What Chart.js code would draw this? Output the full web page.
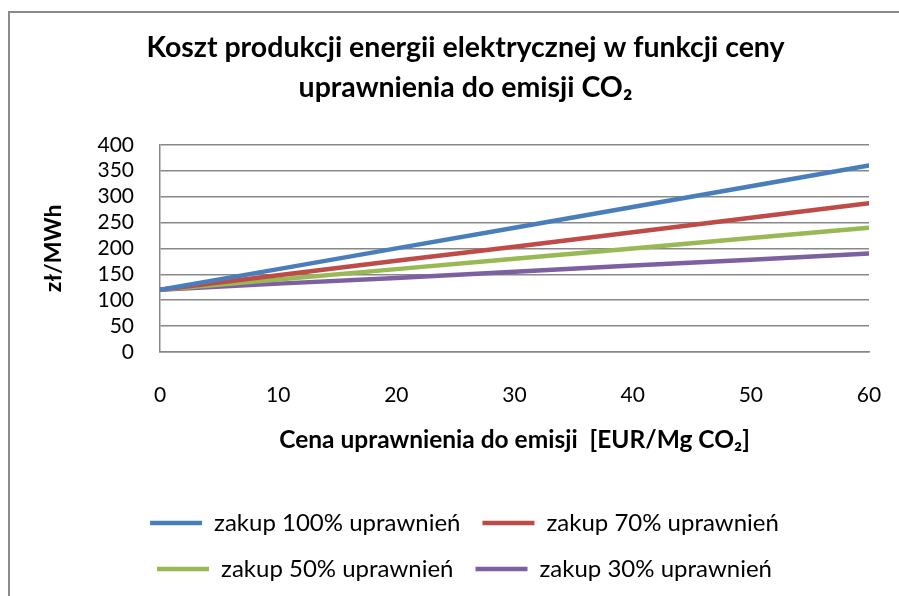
<!DOCTYPE html>
<html>
<head>
<meta charset="utf-8">
<script src="https://cdn.jsdelivr.net/npm/chart.js@4.4.0/dist/chart.umd.min.js"></script>
<style>
  html, body { margin: 0; padding: 0; background: #fff; overflow: hidden; }
  #frame { position: absolute; left: 8px; top: 11px; width: 1000px; height: 700px; border: 2px solid #8a8a8a; }
  #wrap { position: absolute; left: 0; top: 0; width: 899px; height: 591px; }
</style>
</head>
<body>
<div id="frame"></div>
<div id="wrap"><canvas id="chart"></canvas></div>
<script>
// chart data
var titleLines = ['Koszt produkcji energii elektrycznej w funkcji ceny', 'uprawnienia do emisji CO\u2082'];
var xLabel = 'Cena uprawnienia do emisji  [EUR/Mg CO\u2082]';
var yLabel = 'z\u0142/MWh';

var prices = [0, 10, 20, 30, 40, 50, 60];
var seriesNames = ['zakup 100% uprawnie\u0144', 'zakup 70% uprawnie\u0144', 'zakup 50% uprawnie\u0144', 'zakup 30% uprawnie\u0144'];
var cost100 = [120, 160, 200, 240, 280, 320, 360];
var cost70 = [120, 148, 176, 203, 231, 259, 287];
var cost50 = [120, 140, 160, 180, 200, 220, 240];
var cost30 = [120, 132, 143, 155, 167, 178, 190];
var colors = ['#4a7ebb', '#be4b48', '#98b954', '#7d60a0'];

var fontFamily = 'Lato, "Open Sans", sans-serif';

function toPoints(values) {
    return values.map(function (v, i) { return {x: prices[i], y: v}; });
}

var allSeries = [cost100, cost70, cost50, cost30];
var datasets = allSeries.map(function (vals, i) {
    return {
        label: seriesNames[i],
        data: toPoints(vals),
        borderColor: colors[i],
        backgroundColor: colors[i],
        borderWidth: 4.5,
        pointRadius: 0,
        borderCapStyle: 'round',
        tension: 0
    };
});

// shift title + legend a bit right, like the original
var nudge = {
    id: 'nudge',
    afterLayout: function (chart) {
        chart.titleBlock.left += 21; chart.titleBlock.right += 21;
        chart.legend.left += 20; chart.legend.right += 20;
    }
};

new Chart(document.getElementById('chart'), {
    type: 'line',
    data: {datasets: datasets},
    plugins: [nudge],
    options: {
        responsive: true,
        maintainAspectRatio: false,
        animation: false,
        layout: {padding: {left: 20, right: 30, top: 0, bottom: 0}},
        plugins: {
            title: {
                display: true,
                text: titleLines,
                color: '#000',
                font: {family: fontFamily, size: 28.5, weight: 'bold', lineHeight: 1.4},
                padding: {top: 28, bottom: 37}
            },
            legend: {
                position: 'bottom',
                labels: {
                    color: '#000',
                    font: {family: fontFamily, size: 24},
                    usePointStyle: true,
                    pointStyle: 'line',
                    pointStyleWidth: 52,
                    padding: 22
                }
            },
            tooltip: {enabled: false}
        },
        scales: {
            x: {
                type: 'linear',
                min: 0,
                max: 60,
                afterFit: function (scale) {
                    scale.height = 137;
                    scale.paddingRight = 0;
                },
                ticks: {stepSize: 10, color: '#000', padding: 31, font: {family: fontFamily, size: 21}},
                grid: {display: false, drawTicks: false},
                border: {display: true, color: '#888', width: 1.5},
                title: {
                    display: true,
                    text: xLabel,
                    color: '#000',
                    font: {family: fontFamily, size: 24.5, weight: 'bold'},
                    padding: {top: 10, bottom: 34}
                }
            },
            y: {
                min: 0,
                max: 400,
                afterFit: function (scale) { scale.width = 140; },
                ticks: {stepSize: 50, autoSkip: false, color: '#000', padding: 26, font: {family: fontFamily, size: 21}},
                grid: {color: '#888', lineWidth: 1.5, drawTicks: false},
                border: {display: true, color: '#888', width: 1.5},
                title: {
                    display: true,
                    text: yLabel,
                    color: '#000',
                    font: {family: fontFamily, size: 23, weight: 'bold'},
                    padding: {top: 20, bottom: 10}
                }
            }
        }
    }
});
</script>
</body>
</html>
